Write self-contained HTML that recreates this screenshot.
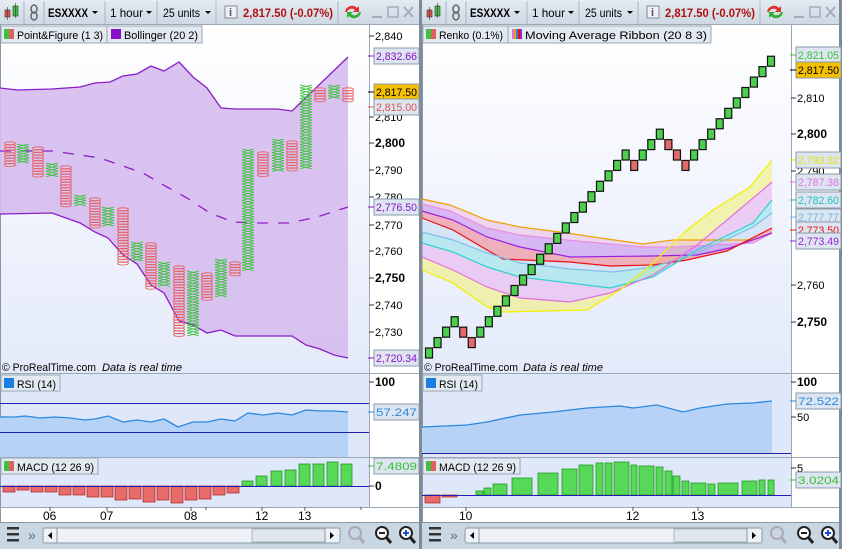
<!DOCTYPE html>
<html><head><meta charset="utf-8"><style>
html,body{margin:0;padding:0;background:#fff;}
svg{display:block;font-family:"Liberation Sans",sans-serif;}
</style></head><body>
<svg id="s" width="842" height="549" viewBox="0 0 842 549" xmlns="http://www.w3.org/2000/svg">
<defs>
<linearGradient id="bg" x1="0" y1="0" x2="0" y2="1"><stop offset="0" stop-color="#ffffff"/><stop offset="1" stop-color="#e4eafa"/></linearGradient>
<linearGradient id="tb" x1="0" y1="0" x2="0" y2="1"><stop offset="0" stop-color="#e4ebf2"/><stop offset="1" stop-color="#cdd8e3"/></linearGradient>
</defs>
<rect width="842" height="549" fill="#fff"/>
<g id="root"></g>
</svg>
<script>
const NS="http://www.w3.org/2000/svg";const R=document.getElementById('root');
function el(t,a,txt,p){const e=document.createElementNS(NS,t);for(const k in a)e.setAttribute(k,a[k]);if(txt!=null)e.textContent=txt;(p||R).appendChild(e);return e;}
function poly(pts){return pts.map(p=>p.join(',')).join(' ');}
function text(x,y,s,o){o=o||{};return el('text',Object.assign({x:x,y:y,'font-size':11,fill:'#000'},o),s);}
function box(x,y,s,col,bg){el('rect',{x:x,y:y-8,width:45,height:16,fill:bg||'#dde6f0',stroke:'#8a99aa'});text(x+2,y+4,s,{fill:col,'font-size':11,textLength:41,lengthAdjust:'spacingAndGlyphs'});el('line',{x1:x-6,y1:y,x2:x,y2:y,stroke:col});}
function tick(x,y,s,bold,col){el('line',{x1:x,y1:y,x2:x+5,y2:y,stroke:'#333'});text(x+6,y+4,s,{'font-weight':bold?'bold':'normal','font-size':bold?12:11,fill:col||'#000'});}

function panel(ox,ax){
 el('rect',{x:ox,y:0,width:420,height:25,fill:'url(#tb)'});
 el('line',{x1:ox,y1:24.5,x2:ox+420,y2:24.5,stroke:'#9aa8b6'});
 [[ox+24],[ox+44],[ox+105],[ox+157],[ox+216],[ox+338]].forEach(a=>el('line',{x1:a[0],y1:1,x2:a[0],y2:24,stroke:'#aab6c2'}));
 el('rect',{x:ox+5,y:10,width:5,height:7,fill:'#e05050',stroke:'#333','stroke-width':.6});
 el('rect',{x:ox+13,y:6,width:5,height:10,fill:'#40c040',stroke:'#333','stroke-width':.6});
 el('line',{x1:ox+7.5,y1:7,x2:ox+7.5,y2:20,stroke:'#333','stroke-width':.6});
 el('line',{x1:ox+15.5,y1:3,x2:ox+15.5,y2:18,stroke:'#333','stroke-width':.6});
 el('ellipse',{cx:ox+34,cy:9,rx:3,ry:4,fill:'none',stroke:'#666','stroke-width':1.5});
 el('ellipse',{cx:ox+34,cy:16,rx:3,ry:4,fill:'none',stroke:'#666','stroke-width':1.5});
 text(ox+48,17,'ESXXXX',{'font-weight':'bold','font-size':12,textLength:40,lengthAdjust:'spacingAndGlyphs'});
 el('path',{d:`M${ox+92},11 l6,0 l-3,3z`,fill:'#000'});
 text(ox+110,17,'1 hour',{'font-size':12,textLength:33,lengthAdjust:'spacingAndGlyphs'});
 el('path',{d:`M${ox+146},11 l6,0 l-3,3z`,fill:'#000'});
 text(ox+163,17,'25 units',{'font-size':12,textLength:37,lengthAdjust:'spacingAndGlyphs'});
 el('path',{d:`M${ox+205},11 l6,0 l-3,3z`,fill:'#000'});
 el('rect',{x:ox+225,y:6,width:12,height:12,fill:'#eef',stroke:'#888'});
 text(ox+229,16,'i',{'font-size':11,'font-weight':'bold',fill:'#555'});
 text(ox+243,17,'2,817.50  (-0.07%)',{'font-weight':'bold','font-size':12,fill:'#b01010','xml:space':'preserve',textLength:90,lengthAdjust:'spacingAndGlyphs'});
 el('path',{d:`M${ox+345},12 a7,7 0 0 1 12,-4 l2,-2 l0,6 l-6,0 l2,-2 a5,5 0 0 0 -8,2z`,fill:'#e03030'});
 el('path',{d:`M${ox+361},12 a7,7 0 0 1 -12,4 l-2,2 l0,-6 l6,0 l-2,2 a5,5 0 0 0 8,-2z`,fill:'#30b030'});
 el('line',{x1:ox+372,y1:17,x2:ox+382,y2:17,stroke:'#aab','stroke-width':2});
 el('rect',{x:ox+388,y:7,width:10,height:10,fill:'none',stroke:'#aab','stroke-width':1.5});
 el('path',{d:`M${ox+404},7 l9,10 M${ox+413},7 l-9,10`,stroke:'#aab','stroke-width':2});
 el('rect',{x:ox,y:25,width:ax-ox,height:348,fill:'url(#bg)'});
 el('rect',{x:ox,y:374,width:ax-ox,height:83,fill:'#dfe7fa'});
 el('rect',{x:ox,y:458,width:ax-ox,height:49,fill:'#dfe7fa'});
 el('line',{x1:ox+.5,y1:25,x2:ox+.5,y2:522,stroke:'#8a96a4'});
 el('line',{x1:ax+.5,y1:25,x2:ax+.5,y2:507,stroke:'#9aa8b6'});
 [373.5,457.5,507.5].forEach(y=>el('line',{x1:ox,y1:y,x2:ox+420,y2:y,stroke:'#9aa8b6'}));
 el('rect',{x:ox,y:522,width:420,height:27,fill:'#c9d7e3'});
 el('line',{x1:ox,y1:522.5,x2:ox+420,y2:522.5,stroke:'#8a98a6'});
 [528,534,540].forEach(y=>el('rect',{x:ox+7,y:y-1,width:12,height:2.5,fill:'#333'}));
 text(ox+28,540,'»',{fill:'#667','font-size':14});
 el('rect',{x:ox+43,y:528,width:297,height:15,fill:'#eef2f6',stroke:'#8a98a6',rx:2});
 el('rect',{x:ox+252,y:529,width:73,height:13,fill:'#dfe6ee',stroke:'#aab6c2'});
 el('path',{d:`M${ox+52},532 l-4,3.5 l4,3.5z`,fill:'#000'});
 el('path',{d:`M${ox+330},532 l4,3.5 l-4,3.5z`,fill:'#000'});
 el('line',{x1:ox+57,y1:528,x2:ox+57,y2:543,stroke:'#8a98a6'});
 el('line',{x1:ox+325,y1:528,x2:ox+325,y2:543,stroke:'#8a98a6'});
 el('circle',{cx:ox+355,cy:533,r:6,fill:'none',stroke:'#aab','stroke-width':2});
 el('line',{x1:ox+359,y1:537,x2:ox+364,y2:543,stroke:'#aab','stroke-width':3});
 el('circle',{cx:ox+382,cy:533,r:6,fill:'#fff',stroke:'#222','stroke-width':2});
 el('line',{x1:ox+386,y1:537,x2:ox+391,y2:543,stroke:'#222','stroke-width':3});
 el('line',{x1:ox+379,y1:533,x2:ox+385,y2:533,stroke:'#222','stroke-width':2});
 el('circle',{cx:ox+406,cy:533,r:6,fill:'#fff',stroke:'#222','stroke-width':2});
 el('line',{x1:ox+410,y1:537,x2:ox+415,y2:543,stroke:'#222','stroke-width':3});
 el('path',{d:`M${ox+403},533 h6 M${ox+406},530 v6`,stroke:'#1a4fd0','stroke-width':2});
}
panel(0,369);panel(422,791);
el('rect',{x:419,y:0,width:3,height:549,fill:'#7d8a98'});
el('rect',{x:839,y:0,width:3,height:549,fill:'#7d8a98'});

const up=[[0,88],[17,90],[52,89],[80,87],[95,83],[110,82],[123,76],[137,74],[151,66],[164,71],[179,62],[193,77],[207,88],[221,108],[235,109],[277,109],[292,111],[348,57]];
const lo=[[0,214],[52,213],[80,223],[95,232],[108,238],[123,255],[137,264],[151,285],[164,293],[179,321],[193,325],[207,333],[221,330],[235,336],[292,336],[306,345],[320,349],[334,355],[348,358]];
el('polygon',{points:poly(up.concat(lo.slice().reverse())),fill:'#d6bdee',opacity:.9});
el('polyline',{points:poly(up),fill:'none',stroke:'#8a1ec8','stroke-width':1.3});
el('polyline',{points:poly(lo),fill:'none',stroke:'#8a1ec8','stroke-width':1.3});
el('polyline',{points:poly([[0,151],[53,151],[100,158],[143,173],[167,187],[187,198],[210,213],[233,222],[253,223],[290,223],[317,217],[348,207]]),fill:'none',stroke:'#8a1ec8','stroke-width':1.3,'stroke-dasharray':'11,10'});
const cols=[[10,'O',142,168],[23,'X',144,165],[38,'O',147,178],[52,'X',163,177],[66,'O',166,208],[80,'X',195,207],[95,'O',198,230],[108,'X',207,228],[123,'O',208,265],[137,'X',242,263],[151,'O',243,289],[164,'X',262,287],[179,'O',266,337],[193,'X',271,336],[207,'O',273,300],[221,'X',259,297],[235,'O',262,277],[248,'X',149,273],[263,'O',152,177],[278,'X',139,173],[292,'O',141,173],[306,'X',85,171],[320,'O',88,102],[334,'X',85,99],[348,'O',88,104]];
cols.forEach(c=>{const [x,t,a,b]=c;for(let y=a+1.4;y<=b-1.2;y+=2.7){
 if(t=='O')el('ellipse',{cx:x,cy:y,rx:5.5,ry:1.6,fill:'none',stroke:'#e46060','stroke-width':.8});
 else el('path',{d:`M${x-6},${y-1.35} L${x+6},${y+1.35} M${x+6},${y-1.35} L${x-6},${y+1.35}`,stroke:'#3cc23c','stroke-width':.8});}});
el('rect',{x:1,y:26,width:106,height:17,fill:'#e2e9f0',stroke:'#9aa8b6'});
el('rect',{x:4,y:29,width:5,height:10,fill:'#40c040'});el('rect',{x:9,y:29,width:5,height:10,fill:'#e06060'});
text(17,39,'Point&Figure (1 3)',{textLength:86,lengthAdjust:'spacingAndGlyphs'});
el('rect',{x:107,y:26,width:95,height:17,fill:'#e2e9f0',stroke:'#9aa8b6'});
el('rect',{x:111,y:29,width:10,height:10,fill:'#8a10c8'});
text(124,39,'Bollinger (20 2)',{textLength:74,lengthAdjust:'spacingAndGlyphs'});
text(2,371,'© ProRealTime.com',{'font-size':11,textLength:94,lengthAdjust:'spacingAndGlyphs'});text(102,371,'Data is real time',{'font-size':11,'font-style':'italic',textLength:80,lengthAdjust:'spacingAndGlyphs'});
[[36,'2,840'],[117,'2,810'],[143,'2,800',1],[170,'2,790'],[197,'2,780'],[225,'2,770'],[251,'2,760'],[278,'2,750',1],[305,'2,740'],[332,'2,730']].forEach(a=>tick(369,a[0],a[1],a[2]));
box(374,56,'2,832.66','#8a10c8');box(374,92,'2,817.50','#000','#f5c000');box(374,107,'2,815.00','#e05050');
box(374,207,'2,776.50','#8a10c8');box(374,358,'2,720.34','#8a10c8');
const rl=[[0,417],[15,417],[25,416],[40,418],[55,417],[70,418],[85,420],[95,419],[108,416],[123,422],[137,420],[151,422],[164,419],[178,427],[193,422],[207,422],[221,419],[235,421],[248,413],[263,415],[278,413],[292,415],[306,410],[320,411],[334,411],[348,412]];
el('polygon',{points:poly(rl.concat([[348,457],[0,457]])),fill:'#b6d2f6'});
el('polyline',{points:poly(rl),fill:'none',stroke:'#2a88dd','stroke-width':1.3});
el('line',{x1:0,y1:403.5,x2:369,y2:403.5,stroke:'#2020b0'});el('line',{x1:0,y1:432.5,x2:369,y2:432.5,stroke:'#2020b0'});
el('rect',{x:1,y:375,width:59,height:16,fill:'#e2e9f0',stroke:'#9aa8b6'});el('rect',{x:4,y:378,width:10,height:10,fill:'#1a7ee0'});text(17,388,'RSI (14)',{textLength:39,lengthAdjust:'spacingAndGlyphs'});
tick(369,382,'100',1);box(374,412,'57.247','#2a88dd');
const rd=[492,490,492,492,495,495,497,497,500,499,502,500,503,500,499,495,493];
rd.forEach((b,i)=>el('rect',{x:3+14*i,y:486,width:12,height:b-486,fill:'#e86a6a',stroke:'#b03030','stroke-width':.8}));
[[242,481],[256,476],[271,471],[285,470],[299,464],[313,464],[327,462],[341,464]].forEach(g=>el('rect',{x:g[0],y:g[1],width:11,height:486-g[1],fill:'#58d858',stroke:'#1e9a1e','stroke-width':.8}));
el('line',{x1:0,y1:486.5,x2:369,y2:486.5,stroke:'#2020b0'});
el('rect',{x:1,y:458,width:97,height:16,fill:'#e2e9f0',stroke:'#9aa8b6'});el('rect',{x:4,y:461,width:5,height:10,fill:'#40c040'});el('rect',{x:9,y:461,width:5,height:10,fill:'#e06060'});text(17,471,'MACD (12 26 9)',{textLength:77,lengthAdjust:'spacingAndGlyphs'});
tick(369,486,'0',1);box(374,466,'7.4809','#3ac03a');
[[50,'06'],[107,'07'],[191,'08'],[262,'12'],[305,'13']].forEach(a=>{el('line',{x1:a[0],y1:507,x2:a[0],y2:511,stroke:'#555'});text(a[0]-7,520,a[1],{'font-size':12});});
[[206,0],[361,0]].forEach(a=>el('line',{x1:a[0],y1:507,x2:a[0],y2:510,stroke:'#555'}));

const L={
 orange:[[422,199],[450,205],[487,220],[520,227],[567,233],[600,238],[643,244],[673,240],[753,240],[772,233]],
 pinkU:[[422,204],[450,211],[487,228],[520,235],[567,240],[600,243],[643,247],[673,247],[753,243],[772,233]],
 purple:[[422,211],[453,220],[487,237],[520,247],[570,257],[653,256],[697,255],[730,248],[772,233]],
 red:[[422,218],[453,230],[487,250],[503,259],[570,262],[610,266],[653,265],[687,260],[727,251],[772,228]],
 lblue:[[422,232],[453,240],[487,253],[520,263],[570,269],[613,272],[653,267],[697,253],[753,227],[772,213]],
 teal:[[422,243],[453,252],[487,267],[520,277],[570,283],[610,288],[653,277],[697,250],[753,223],[772,200]],
 pinkL:[[422,257],[453,270],[487,287],[520,298],[570,302],[610,293],[653,275],[697,245],[733,215],[772,182]],
 yellow:[[422,270],[453,283],[487,307],[503,312],[587,310],[620,290],[653,263],[687,230],[713,210],[750,187],[772,160]]};
function band(a,b,c,o){el('polygon',{points:poly(L[a].concat(L[b].slice().reverse())),fill:c,opacity:o});}
band('yellow','pinkL','#f2f070',.55);band('pinkL','teal','#e7b2ee',.6);band('teal','lblue','#8ee0e6',.55);band('lblue','red','#c4daf2',.6);
band('red','purple','#ee8c98',.65);band('purple','pinkU','#c890ee',.6);band('pinkU','orange','#eeb8e2',.5);
const lc={orange:'#f0a000',pinkU:'#e890e0',purple:'#9a20e0',red:'#ee1010',lblue:'#7cc0e8',teal:'#30d0d0',pinkL:'#e070e0',yellow:'#f0f000'};
for(const k in L)el('polyline',{points:poly(L[k]),fill:'none',stroke:lc[k],'stroke-width':1.2});
const lv=[0,1,2,3,2,1,2];for(let i=7;i<=23;i++)lv.push(i-4);lv.push(18,19,20,21,20,19,18);for(let l=19;lv.length<41;l++)lv.push(l);
const cl=['g','g','g','g','r','r','g'];for(let i=7;i<=23;i++)cl.push('g');cl.push('r','g','g','g','r','r','r');while(cl.length<41)cl.push('g');
lv.forEach((l,i)=>el('rect',{x:425.5+8.55*i,y:348-10.42*l,width:7,height:10,fill:cl[i]=='g'?'#4ccf4c':'#e46a6a',stroke:'#111','stroke-width':1.2}));
el('rect',{x:423,y:26,width:85,height:17,fill:'#e2e9f0',stroke:'#9aa8b6'});
el('rect',{x:426,y:29,width:5,height:10,fill:'#40c040'});el('rect',{x:431,y:29,width:5,height:10,fill:'#e06060'});
text(439,39,'Renko (0.1%)',{textLength:64,lengthAdjust:'spacingAndGlyphs'});
el('rect',{x:508,y:26,width:203,height:17,fill:'#e2e9f0',stroke:'#9aa8b6'});
['#e070e0','#f0a000','#3080e0','#ee1010','#9a20e0'].forEach((c,i)=>el('rect',{x:512+i*2,y:29,width:2,height:10,fill:c}));
text(525,39,'Moving Average Ribbon (20 8 3)',{textLength:182,lengthAdjust:'spacingAndGlyphs'});
text(424,371,'© ProRealTime.com',{'font-size':11,textLength:94,lengthAdjust:'spacingAndGlyphs'});text(523,371,'Data is real time',{'font-size':11,'font-style':'italic',textLength:80,lengthAdjust:'spacingAndGlyphs'});
[[98,'2,810'],[134,'2,800',1],[171,'2,790'],[285,'2,760'],[322,'2,750',1]].forEach(a=>tick(791,a[0],a[1],a[2]));
box(796,55,'2,821.05','#3ac03a');box(796,70,'2,817.50','#000','#f5c000');
box(796,160,'2,793.32','#e8e000');box(796,182,'2,787.38','#e070e0');box(796,200,'2,782.60','#20c0c0');box(796,217,'2,777.77','#70b8e8');
box(796,230,'2,773.50','#ee1010');box(796,241,'2,773.49','#9a20e0');
const rr=[[422,427],[467,425],[487,422],[520,415],[553,412],[587,408],[620,406],[633,408],[657,405],[683,412],[700,408],[727,404],[753,403],[772,401]];
el('polygon',{points:poly(rr.concat([[772,453],[422,453]])),fill:'#b6d2f6'});
el('polyline',{points:poly(rr),fill:'none',stroke:'#2a88dd','stroke-width':1.3});
el('line',{x1:422,y1:453.5,x2:791,y2:453.5,stroke:'#2020b0'});
el('rect',{x:423,y:375,width:59,height:16,fill:'#e2e9f0',stroke:'#9aa8b6'});el('rect',{x:426,y:378,width:10,height:10,fill:'#1a7ee0'});text(439,388,'RSI (14)',{textLength:39,lengthAdjust:'spacingAndGlyphs'});
tick(791,382,'100',1);tick(791,417,'50');box(796,401,'72.522','#2a88dd');
el('rect',{x:425,y:495,width:15,height:8,fill:'#e86a6a',stroke:'#b03030','stroke-width':.8});
el('rect',{x:442,y:495,width:15,height:2,fill:'#e86a6a',stroke:'#b03030','stroke-width':.8});
[[476,483,491],[484,491,488],[493,507,484],[512,532,478],[538,558,473],[562,577,469],[579,593,465],[596,603,463],[605,612,463],[614,629,462],[631,637,465],[639,654,466],[656,663,467],[665,672,471],[673,680,476],[682,689,481],[691,706,483],[708,715,484],[718,738,483],[742,757,481],[759,765,480],[768,774,480]].forEach(g=>el('rect',{x:g[0],y:g[2],width:g[1]-g[0],height:495-g[2],fill:'#58d858',stroke:'#1e9a1e','stroke-width':.8}));
el('line',{x1:422,y1:495.5,x2:791,y2:495.5,stroke:'#2020b0'});
el('rect',{x:423,y:458,width:97,height:16,fill:'#e2e9f0',stroke:'#9aa8b6'});el('rect',{x:426,y:461,width:5,height:10,fill:'#40c040'});el('rect',{x:431,y:461,width:5,height:10,fill:'#e06060'});text(439,471,'MACD (12 26 9)',{textLength:77,lengthAdjust:'spacingAndGlyphs'});
tick(791,468,'5');box(796,480,'3.0204','#3ac03a');
[[466,'10'],[633,'12'],[698,'13']].forEach(a=>{el('line',{x1:a[0],y1:507,x2:a[0],y2:511,stroke:'#555'});text(a[0]-7,520,a[1],{'font-size':12});});
</script>
</body></html>
